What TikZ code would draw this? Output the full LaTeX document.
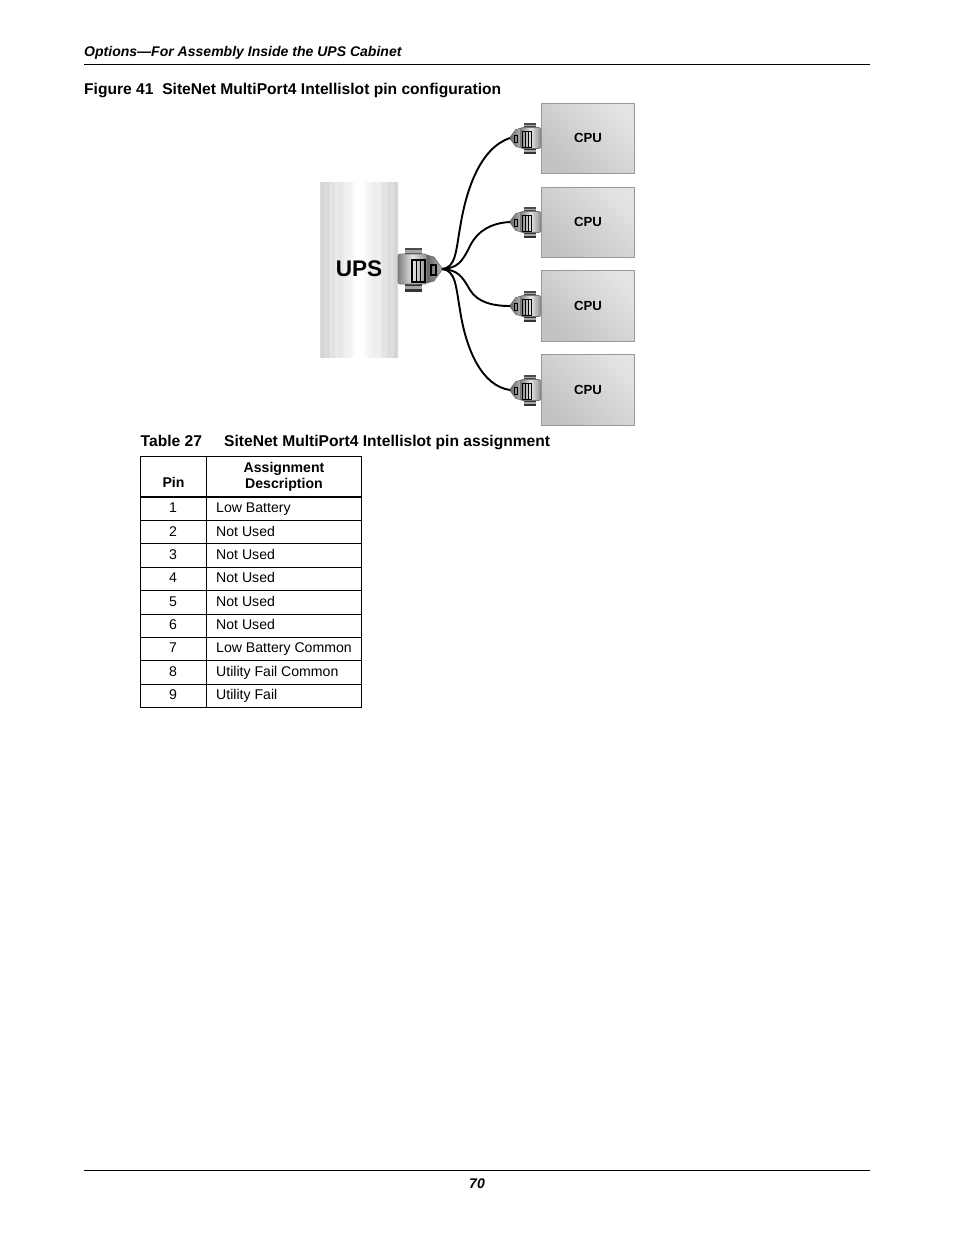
\documentclass[tikz,border=0pt]{standalone}
\usepackage{fontspec}
\setmainfont{Liberation Sans}
\pgfdeclarehorizontalshading{upsshade}{100bp}{
color(0bp)=(black!14);color(25bp)=(black!14);
color(27bp)=(black!18);color(28bp)=(black!12);color(30bp)=(black!16);color(31.5bp)=(black!9);color(33bp)=(black!13);
color(35bp)=(black!8);color(38bp)=(black!10);color(41bp)=(black!6);color(44bp)=(black!5);color(48bp)=(white);color(52bp)=(white);
color(56bp)=(black!4);color(60bp)=(black!7);color(63bp)=(black!6);color(65bp)=(black!11);color(67bp)=(black!10);color(69bp)=(black!14);color(71bp)=(black!12);color(73bp)=(black!17);color(75bp)=(black!15);color(100bp)=(black!15)}
\tikzset{
  x=1pt,y=-1pt,
  txt/.style={inner sep=0pt,anchor=base west,font=\fontsize{14.1}{16}\selectfont},
  txtc/.style={inner sep=0pt,anchor=base,font=\fontsize{14.1}{16}\selectfont},
  hdc/.style={inner sep=0pt,anchor=base,font=\fontsize{14.1}{16}\selectfont\bfseries},
  ttl/.style={inner sep=0pt,anchor=base west,font=\fontsize{15.6}{18}\selectfont\bfseries},
  ital/.style={inner sep=0pt,font=\fontsize{14.03}{16}\selectfont\bfseries\itshape},
  rule/.style={line width=0.8pt,black},
  tbl/.style={line width=0.8pt,black},
  cpubox/.style={draw=black!40,line width=0.9pt,shading=axis,top color=black!11,bottom color=black!24,shading angle=-45,minimum width=93pt,minimum height=70.5pt,inner sep=0pt,font=\fontsize{13.2}{15}\selectfont\bfseries},
  wire/.style={line width=1.9pt,black},
  pics/conn/.style={code={
    \fill[black!70] (-37,-21) rectangle (-20,-14);
    \fill[black!35] (-37,-19) rectangle (-20,-16.5);
    \fill[black!80] (-37,14) rectangle (-20,23);
    \fill[black!35] (-37,17) rectangle (-20,20);
    \shade[left color=black!50,right color=black!45,middle color=black!10,rounded corners=2pt,draw=black!55,line width=0.6pt] (-44,-15) rectangle (-15,15);
    \shade[left color=black!60,right color=black!30,draw=black!60,line width=0.5pt] (-15,-14) -- (-8,-12) -- (0,-1) -- (0,1) -- (-8,12) -- (-15,14) -- cycle;
    \draw[black,line width=#1] (-30,-9) rectangle (-17,13) (-25.7,-9) -- (-25.7,13) (-21.3,-9) -- (-21.3,13);
    \draw[black,line width=#1] (-11,-4) rectangle (-6,6);
  }}
}
\begin{document}
\begin{tikzpicture}
\useasboundingbox[fill=white] (0,0) rectangle (954,1235);
% page furniture
\node[ital,anchor=base west] (head) at (84,56) {Options—For Assembly Inside the UPS Cabinet};
\draw[rule] (84,64.5) -- (870,64.5);
\node[ttl] (figt) at (84,94) {Figure 41\hspace{0.56em}SiteNet MultiPort4 Intellislot pin configuration};
\draw[rule] (84,1170.5) -- (870,1170.5);
\node[ital,anchor=base] (foot) at (477,1188) {70};
% UPS
\shade[shading=upsshade] (320,182) rectangle (398,357.8);
\node[inner sep=0pt,font=\fontsize{22.6}{26}\selectfont\bfseries] (ups) at (359,268.5) {UPS};
% CPUs
\node[cpubox] (cpu1) at (588,138.3) {CPU};
\node[cpubox] (cpu2) at (588,222.3) {CPU};
\node[cpubox] (cpu3) at (588,306) {CPU};
\node[cpubox] (cpu4) at (588,390) {CPU};
% connectors
\pic at (442,269) {conn=1.1pt};
\coordinate (hub) at (442,269);
\foreach \i/\yy in {1/138,2/222,3/306,4/390}{
  \pic[scale=0.7,xscale=-1] at (510,\yy) {conn=0.7pt};
  \coordinate (end\i) at (510,\yy);
}
% wires
\draw[wire] (hub) .. controls (456,268) and (456,250) .. (460,228) .. controls (466,190) and (480,148) .. (end1);
\draw[wire] (hub) .. controls (458,268) and (462,262) .. (470,246) .. controls (478,230) and (492,223) .. (end2);
\draw[wire] (hub) .. controls (458,270) and (462,276) .. (470,290) .. controls (478,303) and (494,306) .. (end3);
\draw[wire] (hub) .. controls (456,270) and (456,288) .. (460,310) .. controls (466,350) and (482,386) .. (end4);
% table
\node[ttl] (tabn) at (140.5,446) {Table 27};
\node[ttl] (tabt) at (224,446) {SiteNet MultiPort4 Intellislot pin assignment};
\draw[tbl] (140.5,456.5) rectangle (361,707.5);
\draw[tbl] (206.5,456.5) -- (206.5,707.5);
\draw[black,line width=2pt] (140.5,496.5) -- (361,496.5);
\foreach \yy in {520.8,543.8,567.2,590.8,614.2,637.5,660.8,684.2}{\draw[tbl] (140.5,\yy) -- (361,\yy);}
\node[hdc] (hp) at (173.5,487) {Pin};
\node[hdc] (ha) at (284,472) {Assignment};
\node[hdc] (hd) at (284,488) {Description};
\foreach \n/\t/\yy in {1/Low Battery/512,2/Not Used/536,3/Not Used/559,4/Not Used/582,5/Not Used/606,6/Not Used/629,7/Low Battery Common/652,8/Utility Fail Common/676,9/Utility Fail/699}{
  \node[txtc] (pin\n) at (173,\yy) {\n};
  \node[txt] (desc\n) at (216,\yy) {\t};
}
\end{tikzpicture}
\end{document}
